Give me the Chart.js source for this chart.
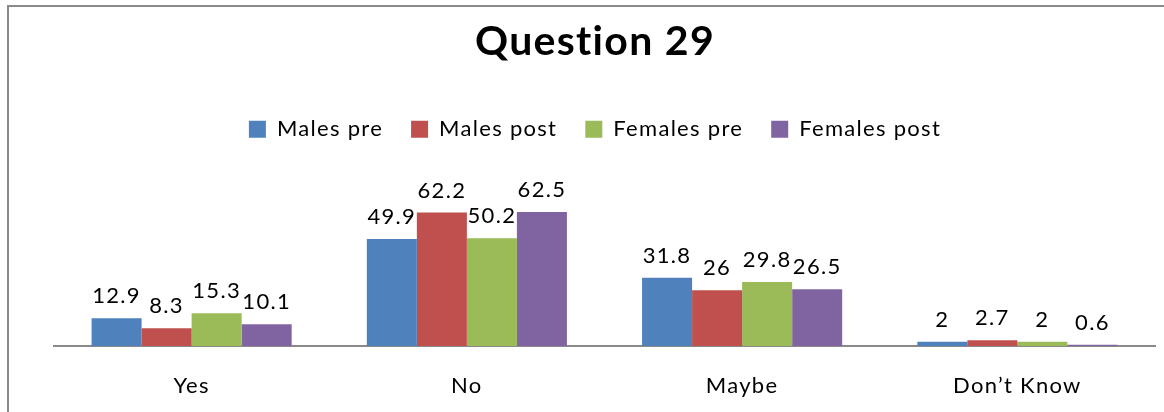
<!DOCTYPE html>
<html>
<head>
<meta charset="utf-8">
<script src="https://cdn.jsdelivr.net/npm/chart.js@4/dist/chart.umd.min.js"></script>
<style>
  html, body { margin: 0; padding: 0; background: #ffffff; }
  #wrap { width: 1164px; height: 412px; position: relative; }
</style>
</head>
<body>
<div id="wrap"><canvas id="c" width="1164" height="412"></canvas></div>
<script>
const categories = ["Yes", "No", "Maybe", "Don\u2019t Know"];
const malesPre = [12.9, 49.9, 31.8, 2];
const malesPost = [8.3, 62.2, 26, 2.7];
const femalesPre = [15.3, 50.2, 29.8, 2];
const femalesPost = [10.1, 62.5, 26.5, 0.6];
const seriesNames = ["Males pre", "Males post", "Females pre", "Females post"];
const seriesColors = ["#4F81BD", "#C0504D", "#9BBB59", "#8064A2"];
const titleText = "Question 29";

const FONT = "Lato, 'Open Sans', sans-serif";

const spacingPlugin = {
  id: 'spacing',
  beforeUpdate(chart) { chart.ctx.letterSpacing = '1.3px'; },
  beforeDraw(chart) { chart.ctx.letterSpacing = '1.3px'; }
};

const borderPlugin = {
  id: 'frame',
  beforeDraw(chart) {
    const ctx = chart.ctx;
    ctx.save();
    ctx.fillStyle = '#ffffff';
    ctx.fillRect(0, 0, chart.width, chart.height);
    ctx.strokeStyle = '#8a8a8a';
    ctx.lineWidth = 2;
    ctx.beginPath();
    ctx.moveTo(8, 412);
    ctx.lineTo(8, 6);
    ctx.lineTo(1164, 6);
    ctx.stroke();
    ctx.restore();
  }
};

const labelPlugin = {
  id: 'valueLabels',
  afterDatasetsDraw(chart) {
    const ctx = chart.ctx;
    ctx.save();
    ctx.font = "22px " + FONT;
    ctx.fillStyle = '#000000';
    ctx.textAlign = 'center';
    ctx.textBaseline = 'alphabetic';
    chart.data.datasets.forEach((ds, i) => {
      const meta = chart.getDatasetMeta(i);
      meta.data.forEach((el, j) => {
        ctx.fillText(String(ds.data[j]), el.x, el.y - 15);
      });
    });
    ctx.restore();
  }
};

const seriesData = [malesPre, malesPost, femalesPre, femalesPost];

new Chart(document.getElementById('c'), {
  type: 'bar',
  data: {
    labels: categories,
    datasets: seriesNames.map((n, i) => ({
      label: n,
      data: seriesData[i],
      backgroundColor: seriesColors[i],
      borderWidth: 0,
      categoryPercentage: 0.727,
      barPercentage: 1.0
    }))
  },
  options: {
    responsive: false,
    animation: false,
    layout: { padding: { left: 35, right: 9, top: 5, bottom: 0 } },
    plugins: {
      tooltip: { enabled: false },
      title: {
        display: true,
        text: titleText,
        color: '#000000',
        font: { family: FONT, size: 41, weight: 'bold', lineHeight: 1.2 },
        padding: { top: 12, bottom: 24 }
      },
      legend: {
        display: true,
        position: 'top',
        labels: {
          color: '#000000',
          font: { family: FONT, size: 22 },
          boxWidth: 17,
          boxHeight: 17,
          padding: 28
        }
      }
    },
    scales: {
      x: {
        grid: { display: false, drawTicks: false },
        border: { display: true, color: '#8a8a8a', width: 2 },
        ticks: { color: '#000000', font: { family: FONT, size: 22 }, padding: 27, maxRotation: 0 },
        afterFit(scale) { scale.height = 66; }
      },
      y: {
        display: true,
        min: 0,
        max: 91.3,
        grid: { display: false, drawTicks: false },
        border: { display: false },
        ticks: { display: false },
        afterFit(scale) { scale.width = 19; }
      }
    }
  },
  plugins: [spacingPlugin, borderPlugin, labelPlugin]
});
</script>
</body>
</html>
